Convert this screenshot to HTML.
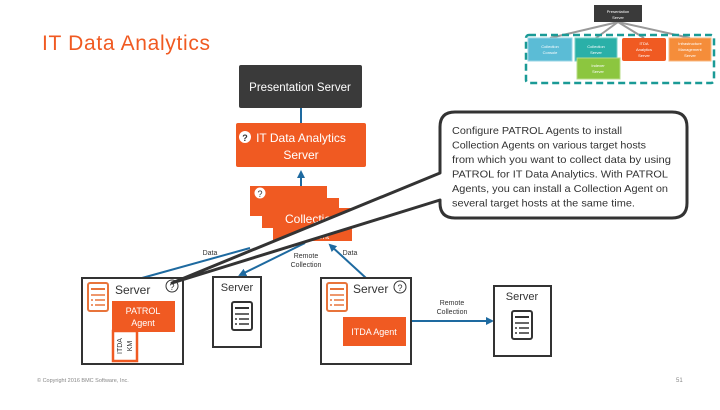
<!DOCTYPE html>
<html><head><meta charset="utf-8"><style>
body{margin:0;width:720px;height:405px;overflow:hidden;background:#fff}
svg text{font-family:"Liberation Sans",sans-serif}
</style></head><body>
<svg width="720" height="405" viewBox="0 0 720 405" xmlns="http://www.w3.org/2000/svg">
<defs>
<marker id="ar" markerWidth="8" markerHeight="8" refX="6" refY="4" orient="auto" markerUnits="userSpaceOnUse"><path d="M0,0 L8,4 L0,8 z" fill="#1e6aa0"/></marker>
<g id="srv"><rect x="0" y="0" width="20" height="28" rx="2" fill="#fff" stroke="#333" stroke-width="2"/><line x1="3" y1="6" x2="17" y2="6" stroke="#333" stroke-width="2"/><line x1="3" y1="12" x2="17" y2="12" stroke="#333" stroke-width="1.5"/><line x1="7" y1="17" x2="17" y2="17" stroke="#333" stroke-width="1.5"/><line x1="7" y1="22" x2="17" y2="22" stroke="#333" stroke-width="1.5"/><line x1="3" y1="17" x2="5" y2="17" stroke="#333" stroke-width="1.5"/><line x1="3" y1="22" x2="5" y2="22" stroke="#333" stroke-width="1.5"/></g>
<g id="srvo"><rect x="0" y="0" width="20" height="28" rx="2" fill="#fff" stroke="#e8743b" stroke-width="2"/><line x1="3" y1="6" x2="17" y2="6" stroke="#e8743b" stroke-width="2"/><line x1="3" y1="12" x2="17" y2="12" stroke="#e8743b" stroke-width="1.5"/><line x1="7" y1="17" x2="17" y2="17" stroke="#e8743b" stroke-width="1.5"/><line x1="7" y1="22" x2="17" y2="22" stroke="#e8743b" stroke-width="1.5"/><line x1="3" y1="17" x2="5" y2="17" stroke="#e8743b" stroke-width="1.5"/><line x1="3" y1="22" x2="5" y2="22" stroke="#e8743b" stroke-width="1.5"/></g>
</defs>
<text x="42" y="50" font-size="21" fill="#f05a22" textLength="168">IT Data Analytics</text>
<!-- mini diagram -->
<g stroke="#999" stroke-width="2"><line x1="618" y1="22" x2="550" y2="38"/><line x1="618" y1="22" x2="596" y2="38"/><line x1="618" y1="22" x2="644" y2="38"/><line x1="618" y1="22" x2="690" y2="38"/></g>
<rect x="594" y="5" width="48" height="17" fill="#3a3a3a"/>
<text x="618" y="13" font-size="4" fill="#fff" text-anchor="middle">Presentation</text><text x="618" y="19" font-size="4" fill="#fff" text-anchor="middle">Server</text>
<rect x="526" y="35" width="188" height="48" rx="3" fill="none" stroke="#1a9a96" stroke-width="2.5" stroke-dasharray="7,4"/>
<rect x="528" y="38" width="44" height="23" fill="#5bbcd6" stroke="#9ad4e4"/>
<rect x="575" y="38" width="42" height="23" fill="#2ab0a8" stroke="#7ad0c8"/>
<rect x="577" y="58" width="43" height="21" fill="#8cc63f" stroke="#b8dc88"/>
<rect x="622" y="38" width="44" height="23" rx="2" fill="#f05a22"/>
<rect x="669" y="38" width="42" height="23" fill="#f58d3a" stroke="#f8b880"/>
<g font-size="4" fill="#fff" text-anchor="middle"><text x="550" y="48">Collection</text><text x="550" y="54">Console</text><text x="596" y="48">Collection</text><text x="596" y="54">Server</text><text x="598" y="67">Indexer</text><text x="598" y="73">Server</text><text x="644" y="45">ITDA</text><text x="644" y="51">Analytics</text><text x="644" y="57">Server</text><text x="690" y="45">Infrastructure</text><text x="690" y="51">Management</text><text x="690" y="57">Server</text></g>
<!-- main -->
<line x1="301" y1="108" x2="301" y2="123" stroke="#1e6aa0" stroke-width="2"/>
<rect x="239" y="65" width="123" height="43" rx="2" fill="#3a3a3a"/>
<text x="300" y="91" font-size="11.5" fill="#fff" text-anchor="middle">Presentation Server</text>
<rect x="236" y="123" width="130" height="44" rx="2" fill="#f05a22"/>
<circle cx="245" cy="137" r="6" fill="#fff"/><text x="245" y="141" font-size="9" font-weight="bold" fill="#333" text-anchor="middle">?</text>
<text x="301" y="142" font-size="12" fill="#fff" text-anchor="middle">IT Data Analytics</text>
<text x="301" y="159" font-size="12" fill="#fff" text-anchor="middle">Server</text>
<line x1="301" y1="186" x2="301" y2="172" stroke="#1e6aa0" stroke-width="2" marker-end="url(#ar)"/>
<rect x="250" y="186" width="77" height="30" fill="#f05a22"/>
<rect x="262" y="198" width="77" height="30" fill="#f05a22"/>
<rect x="273" y="208" width="79" height="33" fill="#f05a22"/>
<circle cx="260" cy="193" r="6" fill="#fff" stroke="#f05a22"/><text x="260" y="197" font-size="9" fill="#333" text-anchor="middle">?</text>
<text x="285" y="223" font-size="12" fill="#fff">Collection</text>
<text x="318" y="239" font-size="8" fill="#fff">ent</text>
<!-- connectors -->
<line x1="250" y1="248" x2="142" y2="278" stroke="#1e6aa0" stroke-width="2"/>
<line x1="305" y1="243" x2="240" y2="275" stroke="#1e6aa0" stroke-width="2" marker-end="url(#ar)"/>
<line x1="366" y1="278" x2="330" y2="245" stroke="#1e6aa0" stroke-width="2" marker-end="url(#ar)"/>
<line x1="411" y1="321" x2="492" y2="321" stroke="#1e6aa0" stroke-width="2" marker-end="url(#ar)"/>
<g font-size="7" fill="#333" text-anchor="middle"><text x="210" y="255">Data</text><text x="306" y="258">Remote</text><text x="306" y="267">Collection</text><text x="350" y="255">Data</text><text x="452" y="305">Remote</text><text x="452" y="314">Collection</text></g>
<!-- servers -->
<rect x="82" y="278" width="101" height="86" fill="#fff" stroke="#333" stroke-width="2"/>
<use href="#srvo" x="88" y="283"/>
<text x="115" y="294" font-size="12" fill="#333">Server</text>
<circle cx="172" cy="286" r="6" fill="#fff" stroke="#333"/><text x="172" y="290" font-size="9" fill="#333" text-anchor="middle">?</text>
<rect x="112" y="301" width="63" height="31" fill="#f05a22"/>
<text x="143" y="314" font-size="9" fill="#fff" text-anchor="middle">PATROL</text><text x="143" y="326" font-size="9" fill="#fff" text-anchor="middle">Agent</text>
<rect x="113" y="331" width="24" height="30" fill="#fff" stroke="#f05a22" stroke-width="2.5"/>
<text transform="translate(122,346) rotate(-90)" font-size="7" fill="#333" text-anchor="middle">ITDA</text>
<text transform="translate(132,346) rotate(-90)" font-size="7" fill="#333" text-anchor="middle">KM</text>
<rect x="213" y="277" width="48" height="70" fill="#fff" stroke="#333" stroke-width="2"/>
<text x="237" y="291" font-size="11" fill="#333" text-anchor="middle">Server</text>
<use href="#srv" x="232" y="302"/>
<rect x="321" y="278" width="90" height="86" fill="#fff" stroke="#333" stroke-width="2"/>
<use href="#srvo" x="327" y="283"/>
<text x="353" y="293" font-size="12" fill="#333">Server</text>
<circle cx="400" cy="287" r="6" fill="#fff" stroke="#333"/><text x="400" y="291" font-size="9" fill="#333" text-anchor="middle">?</text>
<rect x="343" y="317" width="63" height="29" fill="#f05a22"/>
<text x="374" y="335" font-size="9" fill="#fff" text-anchor="middle">ITDA Agent</text>
<rect x="494" y="286" width="57" height="70" fill="#fff" stroke="#333" stroke-width="2"/>
<text x="522" y="300" font-size="11" fill="#333" text-anchor="middle">Server</text>
<use href="#srv" x="512" y="311"/>
<!-- callout -->
<path d="M455,112 H672 Q687,112 687,127 V203 Q687,218 672,218 H455 Q440,218 440,203 V200 L172,283 L440,173 V127 Q440,112 455,112 Z" fill="#fff" stroke="#333" stroke-width="3" stroke-linejoin="round"/>
<g font-size="10.5" fill="#333">
<text x="452" y="134" textLength="170" lengthAdjust="spacingAndGlyphs">Configure PATROL Agents to install</text>
<text x="452" y="148.5" textLength="194" lengthAdjust="spacingAndGlyphs">Collection Agents on various target hosts</text>
<text x="452" y="163" textLength="219" lengthAdjust="spacingAndGlyphs">from which you want to collect data by using</text>
<text x="452" y="177.5" textLength="216" lengthAdjust="spacingAndGlyphs">PATROL for IT Data Analytics. With PATROL</text>
<text x="452" y="192" textLength="216" lengthAdjust="spacingAndGlyphs">Agents, you can install a Collection Agent on</text>
<text x="452" y="206.5" textLength="183" lengthAdjust="spacingAndGlyphs">several target hosts at the same time.</text>
</g>
<text x="37" y="382" font-size="5.5" fill="#888">© Copyright 2016 BMC Software, Inc.</text>
<text x="676" y="382" font-size="6" fill="#888">51</text>
</svg>
</body></html>
